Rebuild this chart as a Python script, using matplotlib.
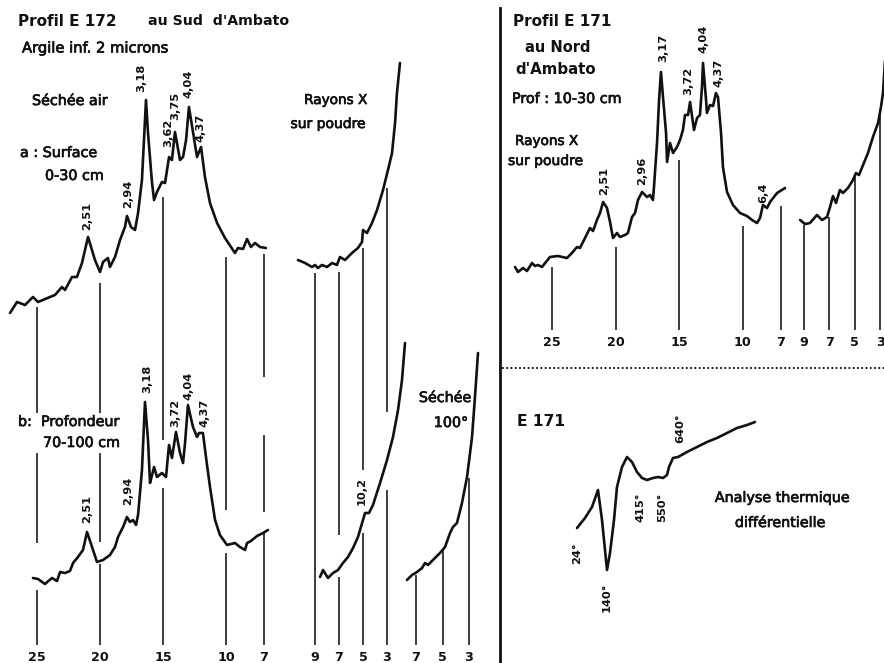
import numpy as np
import matplotlib
matplotlib.use("Agg")
import matplotlib.pyplot as plt
import matplotlib.transforms as mtransforms
import matplotlib.patheffects as pe
from matplotlib.lines import Line2D

W, H, DPI = 884, 663, 100

# ---------------------------------------------------------------------------
# Profil E 172 (au Sud d'Ambato), argile < 2 microns, séchée air
# 2-theta (degrees) and relative intensity above each trace's own baseline
# ---------------------------------------------------------------------------
e172_a_2theta = [27.14, 26.59, 25.95, 25.32, 24.92, 23.97, 23.57, 23.02, 22.78, 22.22,
                 21.83, 21.43, 20.95, 20.40, 20.00, 19.76, 19.37, 19.21, 18.81, 18.41,
                 18.02, 17.86, 17.54, 17.22, 16.98, 16.67, 16.51, 16.35, 16.19, 15.87,
                 15.71, 15.48, 15.08, 14.84, 14.68, 14.52, 14.29, 14.05, 13.65, 13.41,
                 13.17, 12.94, 12.62, 12.30, 11.98, 11.67, 11.27, 10.71, 10.08, 9.29,
                 9.05, 8.65, 8.33, 8.02, 7.70, 7.30, 6.83]
e172_a_int = [7, 18, 15, 23, 18, 23, 25, 33, 30, 43,
              43, 57, 83, 60, 48, 58, 62, 53, 63, 80,
              93, 104, 93, 90, 107, 140, 180, 220, 187, 137,
              120, 128, 138, 137, 150, 163, 160, 188, 160, 163,
              180, 213, 188, 163, 173, 143, 117, 97, 82, 67,
              72, 71, 81, 73, 77, 73, 72]

e172_b_2theta = [25.32, 24.92, 24.37, 23.81, 23.41, 23.17, 22.78, 22.38, 22.14, 21.75,
                 21.35, 21.03, 20.63, 20.24, 19.76, 19.21, 18.81, 18.57, 18.17, 17.86,
                 17.62, 17.38, 17.14, 16.98, 16.67, 16.43, 16.19, 16.03, 15.87, 15.71,
                 15.48, 15.08, 14.76, 14.60, 14.52, 14.29, 13.97, 13.65, 13.41, 13.25,
                 13.02, 12.62, 12.30, 12.14, 11.83, 11.59, 11.27, 10.87, 10.48, 9.92,
                 9.29, 8.89, 8.49, 8.33, 8.02, 7.54, 7.06, 6.67]
e172_b_int = [22, 21, 16, 22, 19, 28, 27, 29, 37, 43,
              50, 68, 53, 38, 40, 45, 53, 63, 73, 83,
              78, 80, 75, 85, 130, 198, 160, 117, 125, 133,
              123, 127, 123, 145, 155, 142, 168, 147, 137, 157,
              195, 173, 163, 167, 167, 143, 113, 80, 65, 55,
              57, 53, 50, 57, 59, 64, 67, 70]

# powder patterns, low angle (surface / profondeur / profondeur séchée 100°)
powder_a_2theta = [10.42, 9.83, 9.25, 9.00, 8.75, 8.42, 8.00, 7.58, 7.17, 6.92,
                   6.50, 5.92, 5.42, 5.08, 5.00, 4.67, 4.25, 3.83, 3.33, 2.92,
                   2.58, 2.33, 2.17, 1.92]
powder_a_int = [20, 17, 13, 15, 12, 15, 13, 17, 15, 23,
                20, 27, 32, 38, 50, 47, 57, 70, 90, 110,
                127, 157, 187, 217]

powder_b_2theta = [8.58, 8.33, 7.92, 7.50, 7.08, 6.67, 6.25, 5.83, 5.42, 5.00,
                   4.83, 4.50, 4.17, 3.58, 3.00, 2.50, 2.08, 1.75, 1.50]
powder_b_int = [23, 30, 22, 27, 30, 37, 43, 52, 63, 80,
                87, 87, 95, 117, 140, 163, 190, 220, 257]

heated_b_2theta = [7.68, 7.30, 6.92, 6.55, 6.32, 6.09, 5.72, 5.19, 4.81, 4.43,
                   4.21, 3.91, 3.53, 3.15, 2.77, 2.55, 2.32]
heated_b_int = [20, 25, 28, 32, 37, 35, 40, 47, 53, 67,
                73, 77, 97, 123, 163, 203, 247]

# ---------------------------------------------------------------------------
# Profil E 171 (au Nord d'Ambato), 10-30 cm, rayons X sur poudre
# ---------------------------------------------------------------------------
e171_2theta = [27.91, 27.68, 27.28, 26.97, 26.57, 26.34, 26.10, 25.79, 25.16, 24.53,
               23.82, 23.43, 23.03, 22.80, 22.40, 22.01, 21.77, 21.46, 21.22, 20.98,
               20.67, 20.43, 20.20, 19.88, 19.65, 19.25, 19.02, 18.70, 18.46, 18.23,
               17.91, 17.52, 17.28, 17.05, 16.97, 16.73, 16.57, 16.42, 16.26, 16.02,
               15.94, 15.71, 15.47, 15.16, 14.92, 14.69, 14.53, 14.29, 14.13, 13.82,
               13.58, 13.35, 13.19, 13.11, 12.87, 12.80, 12.56, 12.32, 12.09, 11.93,
               11.69, 11.54, 11.22, 10.75, 10.20, 9.65, 9.25, 8.86, 8.62, 8.39,
               8.07, 7.83, 7.28, 6.65]
e171_int = [33, 28, 32, 29, 37, 34, 35, 33, 43, 44,
            42, 47, 53, 52, 62, 72, 69, 80, 87, 98,
            92, 78, 62, 67, 63, 65, 67, 83, 87, 100,
            108, 103, 105, 100, 113, 157, 200, 228, 203, 167,
            138, 157, 147, 153, 160, 170, 185, 185, 198, 170,
            182, 185, 213, 237, 200, 187, 195, 194, 207, 203,
            167, 133, 108, 95, 87, 84, 80, 77, 82, 95,
            92, 98, 107, 112]

e171_low_2theta = [9.31, 8.92, 8.53, 7.98, 7.58, 7.19, 6.95, 6.72, 6.48, 6.17,
                   5.93, 5.54, 5.14, 4.91, 4.67, 4.35, 3.96, 3.57, 3.17, 2.94,
                   2.78, 2.62]
e171_low_int = [80, 76, 77, 85, 80, 83, 93, 104, 97, 110,
                107, 112, 120, 127, 125, 135, 147, 163, 177, 193,
                207, 240]

# differential thermal analysis, E 171 (time-like abscissa, arbitrary signal)
dta_t = [0, 8, 15, 21, 25, 30, 33, 37, 40, 45,
         50, 55, 60, 65, 70, 76, 81, 86, 90, 92,
         96, 101, 110, 120, 130, 140, 150, 160, 170, 178]
dta_signal = [72, 82, 93, 110, 80, 30, 47, 80, 113, 133,
              143, 138, 128, 122, 120, 122, 123, 122, 125, 133,
              142, 143, 148, 153, 158, 162, 167, 172, 175, 178]
dta_marks = ["24°", "140°", "415°", "550°", "640°"]
dta_marks_t = [0, 30, 63, 85, 103]

# d-spacings (Å) written over the peaks, with their 2-theta positions
e172_a_peaks = ["2,51", "2,94", "3,18", "3,62", "3,75", "4,04", "4,37"]
e172_a_peaks_2theta = [20.95, 17.86, 16.35, 14.52, 14.05, 12.94, 11.98]
e172_b_peaks = ["2,51", "2,94", "3,18", "3,72", "4,04", "4,37"]
e172_b_peaks_2theta = [21.03, 17.86, 16.43, 13.97, 13.02, 11.83]
powder_b_peaks = ["10,2"]
powder_b_peaks_2theta = [4.83]
e171_peaks = ["2,51", "2,96", "3,17", "3,72", "4,04", "4,37", "6,4"]
e171_peaks_2theta = [20.98, 17.91, 16.42, 14.13, 13.11, 12.09, 8.39]

# scale marks (2-theta)
ticks_wide = [25, 20, 15, 10, 7]
ticks_low = [9, 7, 5, 3]
ticks_heated = [7, 5, 3]

# ---------------------------------------------------------------------------
# layout
# ---------------------------------------------------------------------------
plt.rcParams['font.family'] = ['DejaVu Sans']
fig = plt.figure(figsize=(W / DPI, H / DPI), dpi=DPI)
fig.patch.set_facecolor('white')
PX = mtransforms.Affine2D().scale(1 / W, -1 / H).translate(0, 1) + fig.transFigure

INK = '#111111'
TRACE_LW = 1.9
GUIDE_LW = 1.15
thick = [pe.withStroke(linewidth=0.5, foreground=INK)]


def make_axes(x0, x1, y0, y1, ref_val, ref_px, px_per_unit, reverse=True):
    ax = fig.add_axes([x0 / W, 1 - y1 / H, (x1 - x0) / W, (y1 - y0) / H])
    if reverse:
        ax.set_xlim(ref_val + (ref_px - x0) / px_per_unit,
                    ref_val - (x1 - ref_px) / px_per_unit)
    else:
        ax.set_xlim(ref_val - (ref_px - x0) / px_per_unit,
                    ref_val + (x1 - ref_px) / px_per_unit)
    ax.set_ylim(H - y1, H - y0)
    ax.set_facecolor('none')
    for s in ax.spines.values():
        s.set_visible(False)
    ax.set_yticks([])
    ax.set_xticks([])
    ax.tick_params(axis='x', length=0, pad=4.5, labelsize=9.2, labelcolor=INK)
    return ax


def set_scale(ax, ticks):
    ax.set_xticks(ticks)
    ax.set_xticklabels([str(t) for t in ticks], fontweight='bold')


def trace(ax, x, y, base):
    ax.plot(x, np.asarray(y) + base, color=INK, lw=TRACE_LW,
            solid_joinstyle='round', solid_capstyle='round', clip_on=False, zorder=3)


def guides(ax, spans):
    for t, segs in spans.items():
        for top, bottom in segs:
            ax.vlines(t, bottom, top, color=INK, lw=GUIDE_LW, zorder=2)


def peak_labels(ax, labels, xs, x, y, base, nudges, size=8.2):
    for lab, xp, (dx, dy) in zip(labels, xs, nudges):
        yp = np.interp(xp, x[::-1], np.asarray(y)[::-1]) + base
        ax.annotate(lab, xy=(xp, yp), xytext=(dx, dy), textcoords='offset pixels',
                    rotation=90, ha='center', va='bottom', fontsize=size,
                    fontweight='bold', color=INK, annotation_clip=False)


# baselines of the stacked traces (axis units)
BASE_A, BASE_B, BASE_PA, BASE_R, BASE_DTA = 343, 63, 383, 363, 63

# --- E 172 wide-angle block
ax_l = make_axes(0, 280, 0, 645, 25, 37, 12.6)
set_scale(ax_l, ticks_wide)
guides(ax_l, {25: [(356, 250), (210, 120), (73, 18)],
              20: [(380, 250), (210, 121), (99, 18)],
              15: [(466, 223), (175, 18)],
              10: [(406, 153), (110, 18)],
              7: [(409, 286), (228, 151), (130, 18)]})
trace(ax_l, e172_a_2theta, e172_a_int, BASE_A)
trace(ax_l, e172_b_2theta, e172_b_int, BASE_B)
peak_labels(ax_l, e172_a_peaks, e172_a_peaks_2theta, e172_a_2theta, e172_a_int, BASE_A,
            [(-0.5, 7), (1, 8), (-5, 8), (-1, 10), (0, 12), (-1, 9), (-1, 5)])
peak_labels(ax_l, e172_b_peaks, e172_b_peaks_2theta, e172_b_2theta, e172_b_int, BASE_B,
            [(0, 9), (1, 12), (2, 9), (-1, 5), (0, 5), (1, 6)])

# --- E 172 powder, low angle
ax_p = make_axes(285, 410, 0, 645, 9, 315, 12.0)
set_scale(ax_p, ticks_low)
guides(ax_p, {9: [(390, 18)],
              7: [(391, 128), (86, 18)],
              5: [(415, 193), (130, 18)],
              3: [(475, 251), (173, 18)]})
trace(ax_p, powder_a_2theta, powder_a_int, BASE_PA)
trace(ax_p, powder_b_2theta, powder_b_int, BASE_B)
peak_labels(ax_p, powder_b_peaks, powder_b_peaks_2theta, powder_b_2theta, powder_b_int,
            BASE_B, [(-3, 8)])

# --- E 172 powder, heated to 100°
ax_h = make_axes(400, 490, 0, 645, 7, 416, 13.25)
set_scale(ax_h, ticks_heated)
guides(ax_h, {7: [(88, 18)], 5: [(113, 18)], 3: [(185, 18)]})
trace(ax_h, heated_b_2theta, heated_b_int, BASE_B)

# --- E 171 wide-angle block
ax_r = make_axes(505, 795, 0, 330, 25, 552, 12.7)
set_scale(ax_r, ticks_wide)
guides(ax_r, {25: [(396, 333)], 20: [(416, 333)], 15: [(503, 333)],
              10: [(437, 333)], 7: [(457, 333)]})
trace(ax_r, e171_2theta, e171_int, BASE_R)
peak_labels(ax_r, e171_peaks, e171_peaks_2theta, e171_2theta, e171_int, BASE_R,
            [(1, 7), (0, 7), (2, 10), (-2, 7), (0, 10), (2, 6), (0, 2)])

# --- E 171 low angle
ax_r2 = make_axes(790, 900, 0, 330, 9, 804, 12.7)
set_scale(ax_r2, ticks_low)
guides(ax_r2, {9: [(438, 333)], 7: [(446, 333)], 5: [(486, 333)], 3: [(551, 333)]})
trace(ax_r2, e171_low_2theta, e171_low_int, BASE_R)

# --- DTA
ax_d = make_axes(560, 780, 370, 663, 0, 577, 1.0, reverse=False)
trace(ax_d, dta_t, dta_signal, BASE_DTA)
dta_nudges = [(0, -14, 'top'), (0, -13, 'top'), (0, -17, 'top'), (0, -15, 'top'), (0, 13, 'bottom')]
for lab, t, (dx, dy, va) in zip(dta_marks, dta_marks_t, dta_nudges):
    yv = np.interp(t, dta_t, dta_signal) + BASE_DTA
    ax_d.annotate(lab, xy=(t, yv), xytext=(dx, dy), textcoords='offset pixels',
                  rotation=90, ha='center', va=va, fontsize=8.2, fontweight='bold',
                  color=INK, annotation_clip=False)

# --- frame lines
fig.add_artist(Line2D([500 / W, 500 / W], [0, 1 - 8 / H], color=INK, lw=2.0,
                      transform=fig.transFigure))
fig.add_artist(Line2D([502 / W, 1], [1 - 368 / H, 1 - 368 / H], color=INK, lw=1.4,
                      linestyle=(0, (0.9, 1.3)), transform=fig.transFigure))


# --- texts
def label(x, y, s, size=10.3, bold=False, ha='left'):
    t = fig.text(x, y, s, transform=PX, fontsize=size, ha=ha, va='center',
                 color=INK, fontweight='bold' if bold else 'normal')
    if not bold:
        t.set_path_effects(thick)
    return t


label(18, 21, "Profil E 172", 11, bold=True)
label(148, 21, "au Sud  d'Ambato", 10.2, bold=True)
label(22, 48, "Argile inf. 2 microns", 10.6)
label(32, 101, "Séchée air", 10.3)
label(20, 153, "a : Surface", 10.3)
label(45, 176, "0-30 cm", 10.3)
label(18, 422, "b:  Profondeur", 10.3)
label(43, 443, "70-100 cm", 10.3)
label(336, 100, "Rayons X", 9.8, ha='center')
label(328, 124, "sur poudre", 10.0, ha='center')
label(445, 398, "Séchée", 10.3, ha='center')
label(451, 423, "100°", 10.3, ha='center')

label(513, 22, "Profil E 171", 11, bold=True)
label(525, 48, "au Nord", 10.5, bold=True)
label(515, 69, "d'Ambato", 10.8, bold=True)
label(512, 99, "Prof : 10-30 cm", 10.3)
label(515, 141, "Rayons X", 9.8)
label(508, 161, "sur poudre", 10.0)

label(517, 422, "E 171", 11.2, bold=True)
label(782, 498, "Analyse thermique", 10.3, ha='center')
label(780, 523, "différentielle", 10.3, ha='center')

fig.savefig("out.png", dpi=DPI, facecolor='white')
